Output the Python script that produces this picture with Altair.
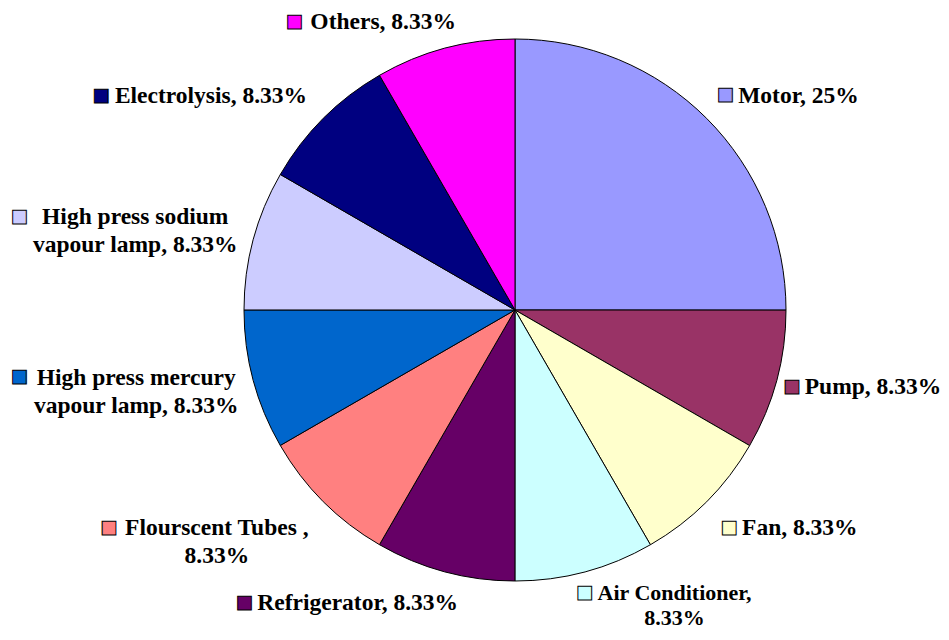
import altair as alt
import pandas as pd

CATEGORIES = ["Motor", "Pump", "Fan", "Air Conditioner", "Refrigerator",
              "Flourscent Tubes", "High press mercury vapour lamp",
              "High press sodium vapour lamp", "Electrolysis", "Others"]
VALUES = [25, 8.33, 8.33, 8.33, 8.33, 8.33, 8.33, 8.33, 8.33, 8.33]
LABELS = ["Motor, 25%", "Pump, 8.33%", "Fan, 8.33%", "Air Conditioner,\n8.33%",
          "Refrigerator, 8.33%", "Flourscent Tubes ,\n8.33%",
          "High press mercury\nvapour lamp, 8.33%",
          "High press sodium\nvapour lamp, 8.33%",
          "Electrolysis, 8.33%", "Others, 8.33%"]
COLORS = ["#9999FF", "#993366", "#FFFFCC", "#CCFFFF", "#660066",
          "#FF8080", "#0066CC", "#CCCCFF", "#000080", "#FF00FF"]

TOTAL = sum(VALUES)

# label layout: align, text nudge (dx, dy), marker nudge (dx, dy), line height, font size
LAYOUT = {
    "Motor": ("left", 11, -2, -2, -3, 28, 23.5),
    "Pump": ("left", 0, -1, -13, -1, 28, 23.5),
    "Fan": ("left", 15, 6, 2, 6, 28, 23.5),
    "Air Conditioner": ("center", 82, -7, -8, -7, 25, 22),
    "Refrigerator": ("left", -180, 3, -193, 3, 28, 23.5),
    "Flourscent Tubes": ("center", -86, 6, -194, 6, 28, 23.5),
    "High press mercury vapour lamp": ("center", -89, -10, -206, -11, 28, 23.5),
    "High press sodium vapour lamp": ("center", -90, -15, -206, -15, 28, 23.5),
    "Electrolysis": ("left", -188, -2, -202, -2, 28, 23.5),
    "Others": ("left", -127, 2, -143, 2, 28, 23.5),
}

df = pd.DataFrame({
    "idx": list(range(len(CATEGORIES))),
    "category": CATEGORIES,
    "value": VALUES,
    "label": LABELS,
})

CX, CY, R, RL = 507, 302, 271, 300
color_scale = alt.Scale(domain=CATEGORIES, range=COLORS)
theta_scale = alt.Scale(domain=[0, TOTAL])
FONT = "'Liberation Serif', 'Times New Roman', 'Liberation Sans', sans-serif"

base = alt.Chart(df)

pie = base.mark_arc(radius=R, stroke="black", strokeWidth=1).encode(
    theta=alt.Theta("value:Q", stack=True, scale=theta_scale),
    order=alt.Order("idx:Q"),
    color=alt.Color("category:N", scale=color_scale, legend=None),
    x=alt.value(CX),
    y=alt.value(CY),
)

layers = [pie]
for cat in CATEGORIES:
    align, tdx, tdy, mdx, mdy, lh, fs = LAYOUT[cat]
    lb = base.transform_window(
        cum="sum(value)", sort=[alt.SortField("idx")]
    ).transform_calculate(
        mid="datum.cum - datum.value / 2"
    ).transform_filter(alt.datum.category == cat)
    txt = lb.mark_text(
        radius=RL, align=align, baseline="middle", dx=tdx, dy=tdy,
        font=FONT, fontWeight="bold", fontSize=fs,
        lineBreak="\n", lineHeight=lh, color="black",
    ).encode(
        theta=alt.Theta("mid:Q", stack=None, scale=theta_scale),
        text="label:N",
        x=alt.value(CX), y=alt.value(CY),
    )
    mk = lb.mark_text(
        radius=RL, align="center", baseline="middle", dx=mdx, dy=mdy,
        font="DejaVu Sans", fontSize=18, stroke="black", strokeWidth=1,
    ).encode(
        theta=alt.Theta("mid:Q", stack=None, scale=theta_scale),
        text=alt.value("\u25A0"),
        color=alt.Color("category:N", scale=color_scale, legend=None),
        x=alt.value(CX), y=alt.value(CY),
    )
    layers += [txt, mk]

chart = alt.layer(*layers).properties(
    width=933, height=624,
    autosize=alt.AutoSizeParams(type="none"),
    padding=0,
).configure_view(stroke=None)

chart.save("out.html", embed_options={"renderer": "svg", "actions": False})
